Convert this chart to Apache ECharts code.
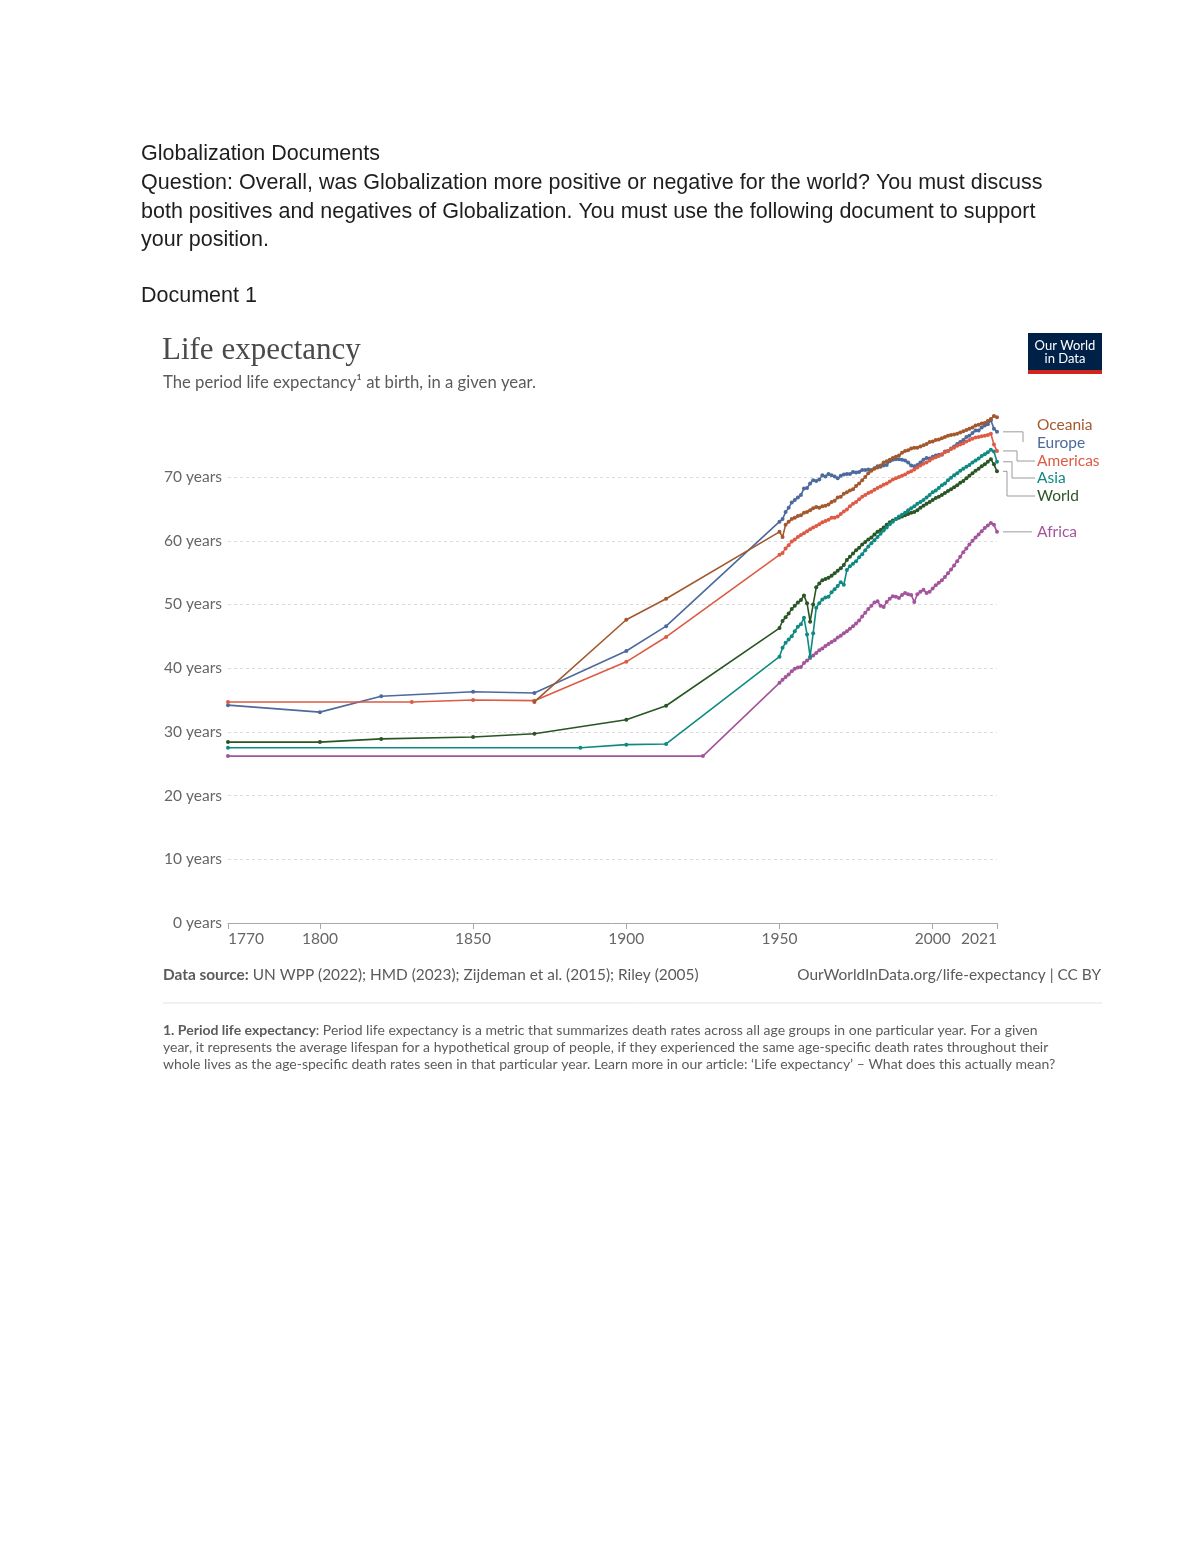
<!DOCTYPE html>
<html>
<head>
<meta charset="utf-8">
<title>Life expectancy</title>
<script src="https://cdn.jsdelivr.net/npm/echarts@6/dist/echarts.min.js"></script>
<style>
  html, body { margin: 0; padding: 0; background: #fff; }
  #main { width: 1200px; height: 1553px; }
</style>
</head>
<body>
<div id="main"></div>
<script>
// x tick labels shown on the axis
var xTicks = [1770, 1800, 1850, 1900, 1950, 2000, 2021];
var yTicks = [0, 10, 20, 30, 40, 50, 60, 70];
var gridValues = [10, 20, 30, 40, 50, 60, 70];

// yearly series from 1950 to 2021
var modernYears = [
  1950, 1951, 1952, 1953, 1954, 1955, 1956, 1957, 1958, 1959,
  1960, 1961, 1962, 1963, 1964, 1965, 1966, 1967, 1968, 1969,
  1970, 1971, 1972, 1973, 1974, 1975, 1976, 1977, 1978, 1979,
  1980, 1981, 1982, 1983, 1984, 1985, 1986, 1987, 1988, 1989,
  1990, 1991, 1992, 1993, 1994, 1995, 1996, 1997, 1998, 1999,
  2000, 2001, 2002, 2003, 2004, 2005, 2006, 2007, 2008, 2009,
  2010, 2011, 2012, 2013, 2014, 2015, 2016, 2017, 2018, 2019,
  2020, 2021
];

// historical estimates [year, years of life]
var africaHist = [[1770, 26.2], [1925, 26.2]];
var worldHist = [[1770, 28.4], [1800, 28.4], [1820, 28.9], [1850, 29.2], [1870, 29.7], [1900, 31.9], [1913, 34.1]];
var asiaHist = [[1770, 27.5], [1885, 27.5], [1900, 28.0], [1913, 28.1]];
var europeHist = [[1770, 34.2], [1800, 33.1], [1820, 35.6], [1850, 36.3], [1870, 36.1], [1900, 42.7], [1913, 46.6]];
var americasHist = [[1770, 34.7], [1830, 34.7], [1850, 35.0], [1870, 34.9], [1900, 41.0], [1913, 44.9]];
var oceaniaHist = [[1870, 34.7], [1900, 47.6], [1913, 50.9]];

var africaModern = [
  37.7, 38.2, 38.6, 39.0, 39.5, 39.9, 40.1, 40.2, 40.8, 41.2,
  41.6, 42.0, 42.4, 42.8, 43.1, 43.5, 43.8, 44.1, 44.4, 44.8,
  45.1, 45.5, 45.8, 46.2, 46.6, 47.0, 47.5, 48.1, 48.7, 49.3,
  49.8, 50.3, 50.5, 49.8, 49.6, 50.4, 50.9, 51.3, 51.2, 51.0,
  51.5, 51.8, 51.6, 51.5, 50.4, 51.6, 52.0, 52.3, 51.8, 52.0,
  52.5, 53.0, 53.4, 53.8, 54.3, 54.9, 55.5, 56.1, 56.8, 57.5,
  58.2, 58.8, 59.4, 60.0, 60.5, 61.0, 61.5, 62.0, 62.4, 62.8,
  62.5, 61.4
];
var worldModern = [
  46.3, 47.4, 48.0, 48.6, 49.3, 49.8, 50.3, 50.7, 51.4, 50.2,
  47.3, 50.0, 52.7, 53.3, 53.8, 54.0, 54.2, 54.5, 54.9, 55.3,
  55.7, 56.2, 57.0, 57.5, 58.0, 58.5, 58.9, 59.4, 59.8, 60.2,
  60.5, 61.0, 61.4, 61.7, 62.1, 62.5, 62.9, 63.2, 63.4, 63.6,
  63.8, 64.0, 64.2, 64.4, 64.5, 64.8, 65.2, 65.5, 65.8, 66.1,
  66.4, 66.7, 66.9, 67.2, 67.5, 67.8, 68.1, 68.4, 68.7, 69.1,
  69.4, 69.8, 70.2, 70.6, 71.0, 71.3, 71.7, 72.0, 72.4, 72.8,
  72.0, 70.9
];
var asiaModern = [
  41.8, 43.2, 44.0, 44.5, 45.0, 45.8, 46.5, 46.9, 47.9, 45.3,
  41.8, 45.5, 49.5, 50.2, 50.8, 51.1, 51.2, 51.9, 52.4, 52.9,
  53.5, 53.1, 55.4, 56.0, 56.4, 56.8, 57.4, 57.9, 58.5, 59.1,
  59.6, 60.1, 60.6, 61.1, 61.6, 62.1, 62.6, 63.0, 63.4, 63.8,
  64.1, 64.4, 64.8, 65.1, 65.4, 65.8, 66.1, 66.4, 66.8, 67.2,
  67.6, 67.9, 68.3, 68.7, 69.0, 69.5, 69.9, 70.3, 70.6, 71.0,
  71.3, 71.6, 71.9, 72.3, 72.6, 72.9, 73.3, 73.6, 73.9, 74.3,
  74.0, 72.4
];
var europeModern = [
  63.0, 63.4, 64.5, 65.2, 66.0, 66.4, 66.8, 67.2, 68.2, 68.3,
  69.0, 69.5, 69.4, 69.6, 70.3, 70.1, 70.5, 70.3, 70.1, 69.8,
  70.2, 70.4, 70.5, 70.5, 70.8, 70.7, 70.8, 71.1, 71.1, 71.2,
  71.1, 71.4, 71.7, 71.6, 71.8, 71.9, 72.5, 72.7, 72.8, 72.8,
  72.7, 72.6, 72.3, 71.8, 71.7, 71.9, 72.3, 72.7, 73.0, 72.9,
  73.2, 73.4, 73.5, 73.5, 74.0, 74.1, 74.5, 74.8, 75.2, 75.5,
  75.8, 76.3, 76.5, 76.9, 77.3, 77.3, 77.8, 78.1, 78.3, 78.9,
  77.6, 77.1
];
var americasModern = [
  57.8, 58.1, 58.8, 59.3, 59.9, 60.2, 60.6, 60.9, 61.2, 61.5,
  61.8, 62.1, 62.3, 62.6, 62.9, 63.1, 63.3, 63.6, 63.6, 63.8,
  64.2, 64.6, 64.9, 65.4, 65.8, 66.1, 66.5, 66.9, 67.2, 67.5,
  67.7, 68.0, 68.3, 68.5, 68.8, 69.0, 69.3, 69.6, 69.8, 70.0,
  70.2, 70.4, 70.7, 70.9, 71.2, 71.5, 71.8, 72.1, 72.3, 72.6,
  72.9, 73.1, 73.3, 73.6, 73.9, 74.1, 74.4, 74.6, 74.9, 75.1,
  75.3, 75.6, 75.8, 76.0, 76.2, 76.3, 76.4, 76.5, 76.6, 76.8,
  75.1, 74.1
];
var oceaniaModern = [
  61.4, 60.6, 62.5, 63.0, 63.4, 63.6, 63.9, 64.0, 64.4, 64.5,
  64.8, 65.1, 65.3, 65.2, 65.4, 65.5, 65.7, 66.1, 66.3, 66.8,
  66.9, 67.4, 67.6, 67.9, 68.1, 68.6, 69.0, 69.5, 70.0, 70.6,
  71.0, 71.3, 71.5, 71.8, 72.3, 72.5, 72.7, 73.0, 73.2, 73.4,
  73.8, 74.1, 74.2, 74.5, 74.6, 74.6, 74.8, 75.0, 75.2, 75.5,
  75.6, 75.8, 75.9, 76.1, 76.3, 76.5, 76.6, 76.7, 76.8, 77.0,
  77.2, 77.4, 77.6, 77.8, 78.1, 78.2, 78.4, 78.5, 78.8, 79.1,
  79.6, 79.4
];

function joinSeries(hist, modern) {
  return hist.concat(modern.map(function (v, i) { return [modernYears[i], v]; }));
}

var FONT = 'Lato, "Noto Sans", sans-serif';
var GREY = '#5b5b5b';

// drawn bottom to top
var regions = [
  { name: 'Africa',   color: '#A2559C', data: joinSeries(africaHist, africaModern) },
  { name: 'World',    color: '#2A5524', data: joinSeries(worldHist, worldModern) },
  { name: 'Asia',     color: '#0E8A83', data: joinSeries(asiaHist, asiaModern) },
  { name: 'Europe',   color: '#4C6A9C', data: joinSeries(europeHist, europeModern) },
  { name: 'Americas', color: '#DD5B45', data: joinSeries(americasHist, americasModern) },
  { name: 'Oceania',  color: '#A3582D', data: joinSeries(oceaniaHist, oceaniaModern) }
];

var chart = echarts.init(document.getElementById('main'));

var series = regions.map(function (r, idx) {
  var s = {
    name: r.name,
    type: 'line',
    data: r.data,
    color: r.color,
    symbol: 'circle',
    symbolSize: 4,
    showAllSymbol: true,
    lineStyle: { width: 1.6, color: r.color },
    itemStyle: { color: r.color },
    animation: false,
    z: 3 + idx
  };
  if (idx === 0) {
    s.markLine = {
      silent: true,
      symbol: 'none',
      label: { show: false },
      lineStyle: { color: '#dcdcdc', type: [3, 3], width: 1 },
      data: gridValues.map(function (v) { return { yAxis: v }; }),
      z: 1
    };
  }
  return s;
});

function txt(text, x, y, size, color, extra) {
  var st = { text: text, x: x, y: y, fontSize: size, fontFamily: FONT, fill: color, verticalAlign: 'middle' };
  for (var k in (extra || {})) st[k] = extra[k];
  return { type: 'text', silent: true, style: st };
}

var pageFont = '"Liberation Sans", Arial, sans-serif';
var baseGraphics = [
  txt('Globalization Documents', 141, 154, 21.5, '#1e1e1e', { fontFamily: pageFont }),
  txt('Question: Overall, was Globalization more positive or negative for the world? You must discuss', 141, 183, 21.5, '#1e1e1e', { fontFamily: pageFont }),
  txt('both positives and negatives of Globalization. You must use the following document to support', 141, 212, 21.5, '#1e1e1e', { fontFamily: pageFont }),
  txt('your position.', 141, 240, 21.5, '#1e1e1e', { fontFamily: pageFont }),
  txt('Document 1', 141, 296, 21.5, '#1e1e1e', { fontFamily: pageFont }),

  txt('Life expectancy', 162, 351, 31, '#4a4a4a', { fontFamily: '"Liberation Serif", "DejaVu Serif", serif' }),
  txt('The period life expectancy\u00B9 at birth, in a given year.', 163, 383, 16.7, GREY),

  { type: 'rect', silent: true, shape: { x: 1028, y: 333, width: 74, height: 38 }, style: { fill: '#002147' } },
  { type: 'rect', silent: true, shape: { x: 1028, y: 370, width: 74, height: 4 }, style: { fill: '#CE261E' } },
  txt('Our World', 1065, 346, 13, '#fff', { align: 'center' }),
  txt('in Data', 1065, 359, 13, '#fff', { align: 'center' }),

  txt('{b|Data source:} UN WPP (2022); HMD (2023); Zijdeman et al. (2015); Riley (2005)', 163, 975, 15.4, GREY, {
    rich: { b: { fontWeight: 'bold', fontSize: 15.4, fontFamily: FONT, fill: GREY } }
  }),
  txt('OurWorldInData.org/life-expectancy | CC BY', 1101, 975, 15.4, GREY, { align: 'right' }),
  { type: 'line', silent: true, shape: { x1: 163, y1: 1003, x2: 1102, y2: 1003 }, style: { stroke: '#e2e2e2', lineWidth: 1 } },

  txt('{b|1. Period life expectancy}: Period life expectancy is a metric that summarizes death rates across all age groups in one particular year. For a given', 163, 1030, 14, GREY, {
    rich: { b: { fontWeight: 'bold', fontSize: 14, fontFamily: FONT, fill: GREY } }
  }),
  txt('year, it represents the average lifespan for a hypothetical group of people, if they experienced the same age-specific death rates throughout their', 163, 1047, 14, GREY),
  txt('whole lives as the age-specific death rates seen in that particular year. Learn more in our article: \u2018Life expectancy\u2019 \u2013 What does this actually mean?', 163, 1064, 14, GREY)
];

chart.setOption({
  backgroundColor: '#fff',
  animation: false,
  grid: { left: 228, right: 203, top: 414, bottom: 630, containLabel: false },
  xAxis: {
    type: 'value',
    min: 1770,
    max: 2021,
    axisLine: { show: true, lineStyle: { color: '#a8a8a8', width: 1 } },
    axisTick: { show: true, length: 6, customValues: xTicks, lineStyle: { color: '#a8a8a8' } },
    axisLabel: {
      customValues: xTicks,
      color: '#666',
      fontSize: 15.5,
      fontFamily: FONT,
      margin: 8,
      alignMinLabel: 'left',
      alignMaxLabel: 'right',
      formatter: function (v) { return String(v); }
    },
    splitLine: { show: false }
  },
  yAxis: {
    type: 'value',
    min: 0,
    max: 79.9,
    axisLine: { show: false },
    axisTick: { show: false },
    axisLabel: {
      customValues: yTicks,
      color: '#666',
      fontSize: 15.5,
      fontFamily: FONT,
      margin: 6,
      formatter: function (v) { return v + ' years'; }
    },
    splitLine: { show: false }
  },
  series: series,
  graphic: baseGraphics
});

// end labels with leader lines, placed from each series' last point
var labelY = { Oceania: 425, Europe: 443, Americas: 461, Asia: 478, World: 496, Africa: 531 };
var elbowX = { Europe: 1023, Americas: 1017, Asia: 1012, World: 1007 };
var labelX = 1037;
var extra = [];
regions.forEach(function (r) {
  var last = r.data[r.data.length - 1];
  var p = chart.convertToPixel({ gridIndex: 0 }, last);
  var ly = labelY[r.name];
  var sx = p[0] + 6;
  var pts = null;
  if (r.name === 'Africa') {
    pts = [[sx, p[1]], [labelX - 5, p[1]]];
    ly = p[1];
  } else if (r.name === 'Europe') {
    pts = [[sx, p[1]], [elbowX.Europe, p[1]], [elbowX.Europe, ly - 1]];
  } else if (elbowX[r.name]) {
    var ex = elbowX[r.name];
    pts = [[sx, p[1]], [ex, p[1]], [ex, ly], [labelX - 2, ly]];
  }
  if (pts) {
    extra.push({
      type: 'polyline', silent: true,
      shape: { points: pts },
      style: { stroke: '#9a9a9a', lineWidth: 1, fill: null }
    });
  }
  extra.push(txt(r.name, labelX, ly, 15.5, r.color));
});

chart.setOption({ graphic: baseGraphics.concat(extra) });
</script>
</body>
</html>
